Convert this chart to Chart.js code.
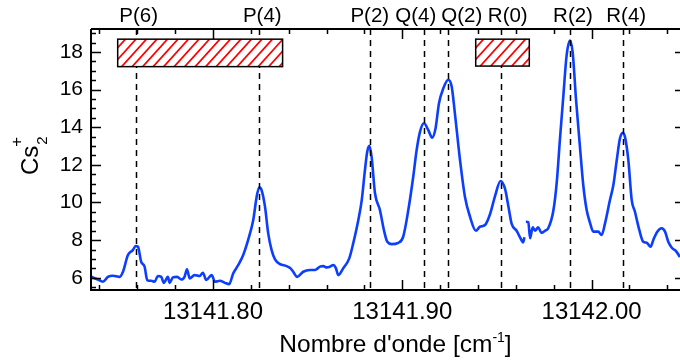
<!DOCTYPE html>
<html>
<head>
<meta charset="utf-8">
<script src="https://cdn.jsdelivr.net/npm/chart.js@4.4.1/dist/chart.umd.min.js"></script>
<style>
  html, body { margin: 0; padding: 0; background: #fff; }
</style>
</head>
<body>
<canvas id="spectrum" width="680" height="361"></canvas>
<script>
// wavenumber (cm-1) and Cs2+ signal; null = hole in the scan
var waveNumbers = [
    13141.7357, 13141.7392, 13141.7419, 13141.7445, 13141.7472, 13141.7507, 13141.7525, 13141.7551, 13141.7577, 13141.7592,
    13141.7604, 13141.7621, 13141.7639, 13141.7653, 13141.7674, 13141.7692, 13141.7709, 13141.7727, 13141.7741, 13141.7762,
    13141.7771, 13141.7789, 13141.7811, 13141.7833, 13141.7850, 13141.7863, 13141.7877, 13141.7903, 13141.7930, 13141.7947,
    13141.7965, 13141.7993, 13141.8011, 13141.8037, 13141.8063, 13141.8086, 13141.8107, 13141.8134, 13141.8160, 13141.8186,
    13141.8213, 13141.8231, 13141.8245, 13141.8257, 13141.8275, 13141.8292, 13141.8310, 13141.8328, 13141.8354, 13141.8389,
    13141.8410, 13141.8424, 13141.8445, 13141.8477, 13141.8512, 13141.8539, 13141.8565, 13141.8583, 13141.8601, 13141.8618,
    13141.8636, 13141.8650, 13141.8662, 13141.8688, 13141.8720, 13141.8741, 13141.8768, 13141.8786, 13141.8803, 13141.8815,
    13141.8826, 13141.8838, 13141.8856, 13141.8882, 13141.8903, 13141.8921, 13141.8944, 13141.8979, 13141.9005, 13141.9032,
    13141.9058, 13141.9076, 13141.9094, 13141.9115, 13141.9137, 13141.9158, 13141.9176, 13141.9194, 13141.9217, 13141.9243,
    13141.9261, 13141.9278, 13141.9305, 13141.9331, 13141.9358, 13141.9389, 13141.9410, 13141.9437, 13141.9463, 13141.9490,
    13141.9519, 13141.9543, 13141.9560, 13141.9578, 13141.9604, 13141.9622, 13141.9639, 13141.9645, 13141.9649, 13141.9653,
    13141.9666, 13141.9675, 13141.9689, 13141.9701, 13141.9718, 13141.9736, 13141.9754, 13141.9771, 13141.9798, 13141.9816,
    13141.9833, 13141.9851, 13141.9868, 13141.9886, 13141.9900, 13141.9918, 13141.9939, 13141.9956, 13141.9974, 13141.9991,
    13142.0009, 13142.0035, 13142.0053, 13142.0071, 13142.0097, 13142.0115, 13142.0133, 13142.0150, 13142.0164, 13142.0176,
    13142.0194, 13142.0212, 13142.0229, 13142.0252, 13142.0273, 13142.0291, 13142.0312, 13142.0326, 13142.0347, 13142.0370,
    13142.0388, 13142.0405, 13142.0425, 13142.0446, 13142.0467
];
var signal = [
    6.05, 5.91, 5.79, 6.05, 6.11, 6.05, 6.32, 7.21, 7.47, 7.69,
    7.65, 6.85, 6.59, 5.88, 5.84, 5.79, 6.09, 6.05, 5.73, 6.05,
    5.73, 6.02, 6.05, 5.91, 6.05, 6.45, 5.97, 6.14, 6.09, 6.27,
    5.88, 6.14, 5.79, 5.84, 5.73, 5.66, 6.23, 6.68, 7.21, 8.01,
    9.07, 10.31, 10.81, 10.66, 9.78, 8.36, 7.47, 6.98, 6.73, 6.62,
    6.50, 6.32, 6.05, 6.32, 6.41, 6.41, 6.59, 6.62, 6.55, 6.59,
    6.68, 6.50, 6.14, 6.50, 7.03, 7.83, 9.07, 10.13, 11.73, 12.70,
    13.01, 12.44, 10.49, 9.60, 8.54, 7.91, 7.79, 7.86, 8.18, 9.60,
    11.37, 12.79, 13.77, 14.21, 13.86, 13.45, 13.95, 15.28, 16.07, 16.52,
    16.16, 14.74, 12.26, 10.31, 9.24, 8.50, 8.71, 8.80, 9.36, 10.34,
    11.14, 10.72, 9.83, 8.86, 8.50, 8.15, 7.88, 8.15, null, 8.98,
    8.95, 8.10, 8.68, 8.50, 8.68, 8.38, 8.50, 8.63, 9.56, 11.07,
    13.38, 15.68, 17.81, 18.61, 17.99, 15.45, 12.90, 10.93, 9.60, 8.95,
    8.45, 8.45, 8.27, 8.89, 10.13, 10.93, 12.26, 13.41, 13.71, 13.50,
    12.26, 10.13, 9.51, 8.54, 7.91, 7.86, 7.65, 8.01, 8.45, 8.63,
    8.45, 7.91, 7.58, 7.42, 7.10
];

// rotational line assignments and where they sit (cm-1)
var lineNames = ['P(6)', 'P(4)', 'P(2)', 'Q(4)', 'Q(2)', 'R(0)', 'R(2)', 'R(4)'];
var linePositions = [13141.7592, 13141.8245, 13141.8829, 13141.9116, 13141.9243, 13141.9520, 13141.9886, 13142.0167];

// hatched ranges (cm-1) and their vertical extent (signal units)
var boxStart = [13141.7497, 13141.9388];
var boxEnd = [13141.8368, 13141.9671];
var boxLow = [17.22, 17.25];
var boxHigh = [18.68, 18.68];

// axes
var xMin = 13141.7356, xMax = 13142.0467;
var yMin = 5.35, yMax = 19.22;
var xLabelValues = [13141.80, 13141.90, 13142.00];
var yLabelValues = [6, 8, 10, 12, 14, 16, 18];
var xMinorStep = 0.02, yMinorStep = 0.5;

var FONT = "'Liberation Sans', Arial, sans-serif";
var BLUE = 'rgb(12, 62, 255)';

function isLabel(list, v) {
    for (var i = 0; i < list.length; i++) {
        if (Math.abs(list[i] - v) < 1e-6) return true;
    }
    return false;
}

var points = [];
for (var i = 0; i < waveNumbers.length; i++) {
    points.push({x: waveNumbers[i], y: signal[i]});
}

var decor = {
    id: 'decor',
    afterDraw: function(chart) {
        var ctx = chart.ctx, a = chart.chartArea;
        var xs = chart.scales.x, ys = chart.scales.y;
        ctx.save();

        // dashed assignment lines
        ctx.save();
        ctx.beginPath();
        ctx.rect(a.left, a.top, a.right - a.left, a.bottom - a.top);
        ctx.clip();
        ctx.strokeStyle = '#000';
        ctx.lineWidth = 1.5;
        ctx.setLineDash([6, 5]);
        ctx.beginPath();
        linePositions.forEach(function(p) {
            var px = Math.round(xs.getPixelForValue(p)) + 0.5;
            ctx.moveTo(px, a.top);
            ctx.lineTo(px, a.bottom);
        });
        ctx.stroke();
        ctx.restore();

        // hatched boxes
        for (var b = 0; b < boxStart.length; b++) {
            var l = xs.getPixelForValue(boxStart[b]), r = xs.getPixelForValue(boxEnd[b]);
            var t = ys.getPixelForValue(boxHigh[b]), btm = ys.getPixelForValue(boxLow[b]);
            ctx.fillStyle = '#fff';
            ctx.fillRect(l, t, r - l, btm - t);
            ctx.save();
            ctx.beginPath();
            ctx.rect(l, t, r - l, btm - t);
            ctx.clip();
            ctx.strokeStyle = '#ff0000';
            ctx.lineWidth = 1.7;
            ctx.beginPath();
            var h = btm - t;
            for (var k = l - h; k < r + h; k += 10.5) {
                ctx.moveTo(k, btm);
                ctx.lineTo(k + h * 0.9, t);
            }
            ctx.stroke();
            ctx.restore();
            ctx.strokeStyle = '#000';
            ctx.lineWidth = 1.5;
            ctx.strokeRect(l, t, r - l, btm - t);
        }

        // frame: left, bottom, top lines
        ctx.strokeStyle = '#000';
        ctx.lineWidth = 2;
        ctx.beginPath();
        ctx.moveTo(a.left, a.top);
        ctx.lineTo(a.right, a.top);
        ctx.moveTo(a.left, a.top);
        ctx.lineTo(a.left, a.bottom);
        ctx.lineTo(a.right, a.bottom);
        ctx.stroke();

        // inward ticks
        ctx.lineWidth = 1.5;
        ctx.beginPath();
        xs.ticks.forEach(function(tk) {
            var px = Math.round(xs.getPixelForValue(tk.value)) + 0.5;
            var len = isLabel(xLabelValues, tk.value) ? 10 : 5;
            ctx.moveTo(px, a.bottom);
            ctx.lineTo(px, a.bottom - len);
            ctx.moveTo(px, a.top);
            ctx.lineTo(px, a.top + len);
        });
        ys.ticks.forEach(function(tk) {
            var py = Math.round(ys.getPixelForValue(tk.value)) + 0.5;
            var major = isLabel(yLabelValues, tk.value);
            ctx.moveTo(a.left, py);
            ctx.lineTo(a.left + (major ? 10 : 5), py);
            if (major) {
                ctx.moveTo(a.right, py);
                ctx.lineTo(a.right - 5, py);
            }
        });
        ctx.stroke();

        // assignment labels above the frame, pushed apart where they crowd
        ctx.fillStyle = '#000';
        ctx.font = '20.5px ' + FONT;
        ctx.textAlign = 'center';
        ctx.textBaseline = 'alphabetic';
        var cx = linePositions.map(function(p) { return xs.getPixelForValue(p); });
        var gap = 46;
        for (var pass = 0; pass < 30; pass++) {
            for (var j = 1; j < cx.length; j++) {
                var over = gap - (cx[j] - cx[j - 1]);
                if (over > 0) {
                    cx[j - 1] -= over / 2;
                    cx[j] += over / 2;
                }
            }
        }
        lineNames.forEach(function(name, j) {
            ctx.fillText(name, cx[j] + 3, 22);
        });

        // x title with superscript
        ctx.textAlign = 'left';
        var big = '24.5px ' + FONT, small = '14px ' + FONT;
        ctx.font = big;
        var w1 = ctx.measureText("Nombre d'onde [cm").width;
        var w3 = ctx.measureText(']').width;
        ctx.font = small;
        var w2 = ctx.measureText('-1').width;
        var x0 = (a.left + a.right) / 2 + 10 - (w1 + w2 + w3) / 2;
        ctx.font = big;
        ctx.fillText("Nombre d'onde [cm", x0, 352);
        ctx.font = small;
        ctx.fillText('-1', x0 + w1, 342);
        ctx.font = big;
        ctx.fillText(']', x0 + w1 + w2, 352);

        // y title Cs2+ with sub- and superscript
        ctx.translate(38, 175);
        ctx.rotate(-Math.PI / 2);
        ctx.font = '24px ' + FONT;
        ctx.fillText('Cs', 0, 0);
        var wc = ctx.measureText('Cs').width;
        ctx.font = '15px ' + FONT;
        ctx.fillText('2', wc + 1, 9);
        ctx.font = '17px ' + FONT;
        ctx.fillText('+', wc - 1, -16);

        ctx.restore();
    }
};

new Chart(document.getElementById('spectrum'), {
    type: 'line',
    data: {
        datasets: [{
            data: points,
            borderColor: BLUE,
            borderWidth: 2.6,
            pointRadius: 0,
            fill: false,
            spanGaps: false,
            cubicInterpolationMode: 'monotone'
        }]
    },
    options: {
        responsive: false,
        animation: false,
        devicePixelRatio: 1,
        layout: {padding: {top: 29, right: 0, left: 0, bottom: 0}},
        plugins: {legend: {display: false}, tooltip: {enabled: false}},
        scales: {
            x: {
                type: 'linear',
                min: xMin,
                max: xMax,
                afterBuildTicks: function(scale) {
                    var ticks = [];
                    var start = Math.ceil(xMin / xMinorStep - 1e-6);
                    for (var n = start; n * xMinorStep <= xMax + 1e-9; n++) {
                        ticks.push({value: Math.round(n * xMinorStep * 100) / 100});
                    }
                    scale.ticks = ticks;
                },
                afterFit: function(scale) { scale.height = 71; },
                grid: {display: false, drawTicks: false},
                border: {display: false},
                ticks: {
                    autoSkip: false,
                    maxRotation: 0,
                    padding: 8,
                    color: '#000',
                    font: {family: FONT, size: 24},
                    callback: function(v) { return isLabel(xLabelValues, v) ? v.toFixed(2) : ''; }
                }
            },
            y: {
                min: yMin,
                max: yMax,
                afterBuildTicks: function(scale) {
                    var ticks = [];
                    var start = Math.ceil(yMin / yMinorStep);
                    for (var n = start; n * yMinorStep <= yMax; n++) {
                        ticks.push({value: n * yMinorStep});
                    }
                    scale.ticks = ticks;
                },
                afterFit: function(scale) { scale.width = 91; },
                grid: {display: false, drawTicks: false},
                border: {display: false},
                ticks: {
                    autoSkip: false,
                    padding: 8,
                    color: '#000',
                    font: {family: FONT, size: 21},
                    callback: function(v) { return isLabel(yLabelValues, v) ? String(v) : ''; }
                }
            }
        }
    },
    plugins: [decor]
});
</script>
</body>
</html>
